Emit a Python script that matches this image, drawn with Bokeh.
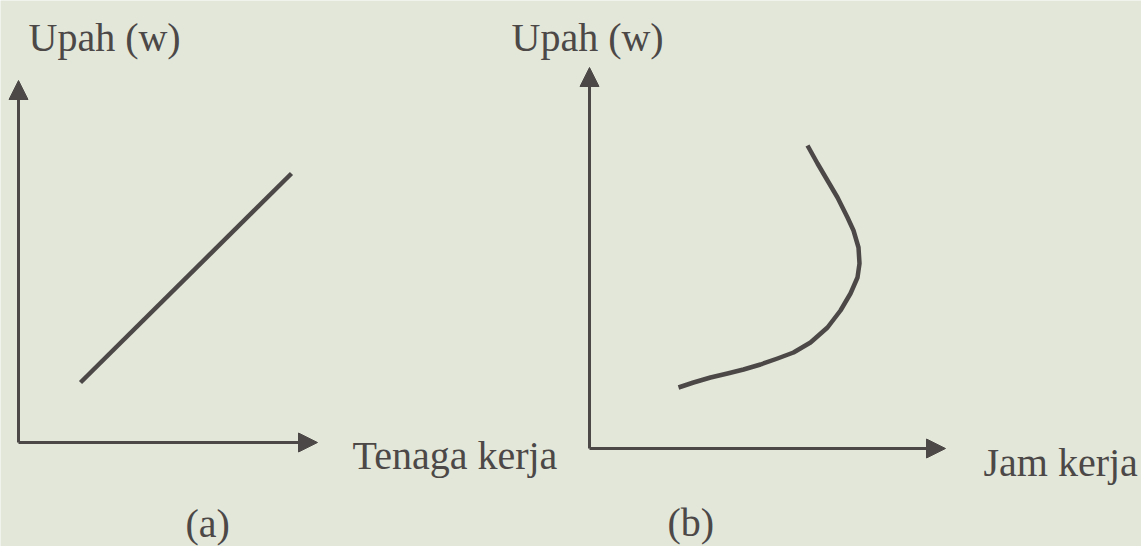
from bokeh.plotting import figure
from bokeh.models import Range1d, Arrow, NormalHead, Label
from bokeh.embed import file_html
from bokeh.resources import INLINE

# ---------------- data ----------------
# Panel (a): wage vs. labour (upward sloping straight line)
a_tenaga = [6.2, 27.3]
a_upah = [6.0, 26.9]
a_axis_x_max = 29.9
a_axis_y_max = 36.2

# Panel (b): wage vs. working hours (backward-bending supply curve)
b_jam = [8.9, 10.4, 12.1, 13.8, 15.4, 17.1, 18.8, 20.4, 22.1, 23.8, 25.1,
         26.1, 26.8, 27.0, 26.9, 26.4, 25.8, 24.8, 23.8, 22.8, 21.8]
b_upah = [6.1, 6.6, 7.1, 7.5, 7.9, 8.4, 9.0, 9.6, 10.6, 12.1, 13.8,
          15.5, 17.1, 18.5, 20.1, 21.8, 23.1, 25.1, 26.8, 28.5, 30.3]
b_axis_x_max = 35.6
b_axis_y_max = 38.1

# labels: (text, x, y, panel)
labels = [
    ("Upah (w)", 1.0, 40.5, "a"),
    ("Tenaga kerja", 33.4, -1.3, "a"),
    ("(a)", 16.7, -8.1, "a"),
    ("Upah (w)", -7.8, 41.1, "b"),
    ("Jam kerja", 39.4, -1.4, "b"),
    ("(b)", 7.8, -7.4, "b"),
]

BG = "#e2e7d9"
INK = "#4c4847"
FONT = "Liberation Serif"

p = figure(width=1141, height=546, output_backend="svg", toolbar_location=None,
           x_range=Range1d(-1.8, 112.3), y_range=Range1d(-10.4, 44.2),
           x_axis_type=None, y_axis_type=None, min_border=0,
           background_fill_color=BG, border_fill_color=BG,
           outline_line_color=None)
p.grid.visible = False
p.extra_x_ranges = {"b": Range1d(-58.9, 55.2)}
p.extra_y_ranges = {"b": Range1d(-9.8, 44.8)}


def axis_arrow(x_end, y_end, rng):
    kw = {}
    if rng == "b":
        kw = dict(x_range_name="b", y_range_name="b")
    p.add_layout(Arrow(end=NormalHead(size=19, fill_color=INK, line_color=INK, line_width=1),
                       x_start=0, y_start=0, x_end=x_end, y_end=y_end,
                       line_color=INK, line_width=3, **kw))


axis_arrow(a_axis_x_max, 0, "a")
axis_arrow(0, a_axis_y_max, "a")
axis_arrow(b_axis_x_max, 0, "b")
axis_arrow(0, b_axis_y_max, "b")

p.line(a_tenaga, a_upah, line_color=INK, line_width=4.5)
p.line(b_jam, b_upah, line_color=INK, line_width=4.5, line_join="round",
       x_range_name="b", y_range_name="b")

for text, x, y, panel in labels:
    kw = {}
    if panel == "b":
        kw = dict(x_range_name="b", y_range_name="b")
    p.add_layout(Label(x=x, y=y, text=text, text_font=FONT, text_font_size="40px",
                       text_color=INK, text_align="left", text_baseline="alphabetic", **kw))

html = file_html(p, INLINE)
html = html.replace("<body>", '<body style="background:%s">' % BG, 1)
open("out.html", "w").write(html)
